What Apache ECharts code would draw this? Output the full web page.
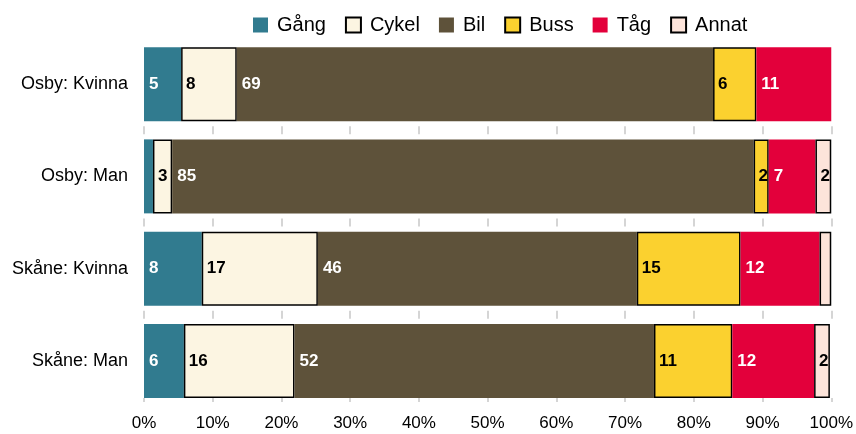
<!DOCTYPE html>
<html>
<head>
<meta charset="utf-8">
<script src="https://cdn.jsdelivr.net/npm/echarts@6/dist/echarts.min.js"></script>
<style>
  html, body { margin: 0; padding: 0; background: #fff; }
  #main { width: 856px; height: 434px; }
</style>
</head>
<body>
<div id="main"></div>
<script>
// categories, top to bottom
const categories = ['Osby: Kvinna', 'Osby: Man', 'Skåne: Kvinna', 'Skåne: Man'];
const seriesNames = ['Gång', 'Cykel', 'Bil', 'Buss', 'Tåg', 'Annat'];

// share in percent, same order as categories ('-' = nothing drawn)
const gang  = [5.4, 1.3, 8.4, 5.8];
const cykel = [8.1, 2.8, 16.9, 16.1];
const bil   = [69.3, 84.6, 46.4, 52.3];
const buss  = [6.3, 2.2, 15.1, 11.4];
const tag   = [10.9, 6.8, 11.5, 11.9];
const annat = ['-', 2.3, 1.7, 2.3];

const xTicks = [0, 10, 20, 30, 40, 50, 60, 70, 80, 90, 100];

const values = [gang, cykel, bil, buss, tag, annat];
const colors = ['#317b8f', '#fcf5e2', '#5e523a', '#fbd12f', '#e3003b', '#fde4da'];
const bordered = [false, true, false, true, false, true];
const labelColors = ['#fff', '#000', '#fff', '#000', '#fff', '#000'];

const chartDom = document.getElementById('main');
const myChart = echarts.init(chartDom);

const series = seriesNames.map((name, i) => ({
    name: name,
    type: 'bar',
    stack: 'total',
    barWidth: 74,
    data: values[i],
    itemStyle: {
        color: colors[i],
        borderColor: bordered[i] ? '#000' : colors[i],
        borderWidth: bordered[i] ? 1.5 : 0
    },
    label: {
        show: true,
        position: 'insideLeft',
        distance: 5,
        color: labelColors[i],
        fontFamily: 'Liberation Sans, Arial, sans-serif',
        fontWeight: 'bold',
        fontSize: 17,
        formatter: p => (p.value < 2 ? '' : String(Math.round(p.value)))
    },
    emphasis: { disabled: true }
}));

const option = {
    animation: false,
    textStyle: { fontFamily: 'Liberation Sans, Arial, sans-serif' },
    legend: {
        data: seriesNames,
        left: 248,
        top: 10,
        itemWidth: 15,
        itemHeight: 15,
        itemGap: 19,
        icon: 'rect',
        textStyle: { fontSize: 20, color: '#000', padding: [0, 0, 0, 4] }
    },
    grid: {
        left: 144,
        right: 24,
        top: 38,
        bottom: 27
    },
    xAxis: {
        type: 'value',
        min: xTicks[0],
        max: xTicks[xTicks.length - 1],
        interval: 10,
        axisLine: { show: false },
        axisTick: { show: false },
        axisLabel: {
            fontSize: 17,
            color: '#000',
            margin: 8,
            formatter: v => v + '%'
        },
        splitLine: {
            show: true,
            lineStyle: {
                color: '#c8c8c8',
                width: 1.5,
                // short segments only in the gaps between bars
                type: [8, 84.2, 8, 84.3, 8, 79.2, 4, 200],
                dashOffset: 387.4
            }
        }
    },
    yAxis: {
        type: 'category',
        inverse: true,
        data: categories,
        axisLine: { show: false },
        axisTick: { show: false },
        axisLabel: { fontSize: 18, color: '#000', margin: 16 }
    },
    series: series
};

option && myChart.setOption(option);
</script>
</body>
</html>
